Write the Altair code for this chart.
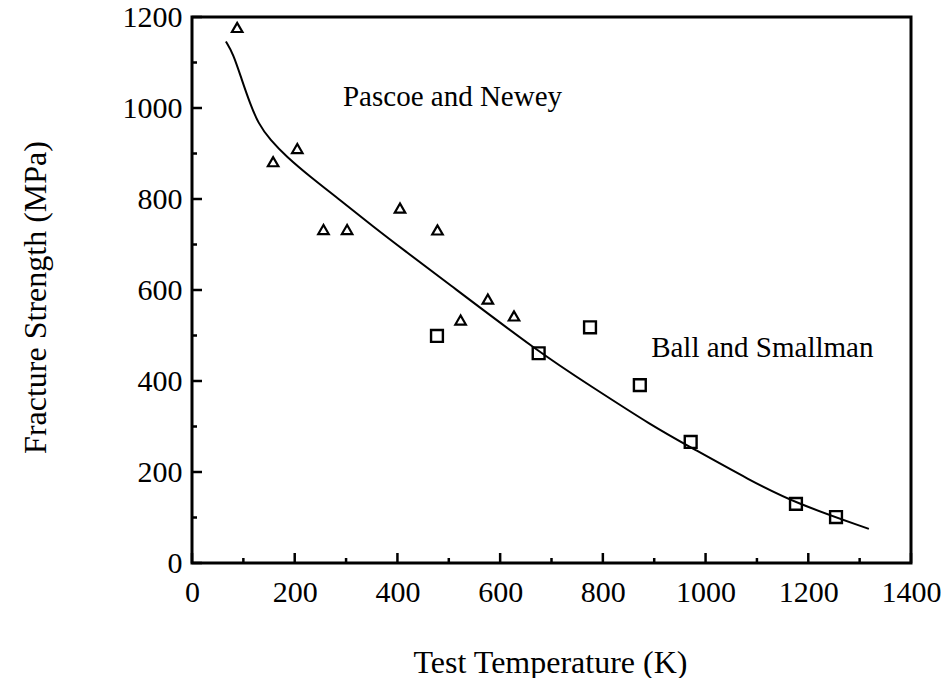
import altair as alt
import pandas as pd

# Pascoe and Newey (triangles)
pn_temp = [88, 158, 205, 256, 302, 405, 478, 523, 576, 627]
pn_strength = [1177, 882, 911, 733, 733, 780, 732, 534, 580, 543]

# Ball and Smallman (squares)
bs_temp = [477, 675, 775, 872, 971, 1176, 1254]
bs_strength = [499, 461, 518, 391, 266, 130, 101]

# Fitted curve
curve_temp = [66, 80, 97, 113, 129, 152, 184, 230, 288, 353, 418, 483, 678,
              775, 898, 970, 1086, 1176, 1318]
curve_strength = [1146, 1120, 1062, 1010, 966, 930, 893, 849, 798, 739, 683, 628,
                  461, 390, 300, 255, 182, 131, 75]

# Annotations
label_text = ["Pascoe and Newey", "Ball and Smallman"]
label_x = [294, 894]
label_y = [1024, 473]

x_ticks_major = [0, 200, 400, 600, 800, 1000, 1200, 1400]
x_ticks_minor = [100, 300, 500, 700, 900, 1100, 1300]
y_ticks_major = [0, 200, 400, 600, 800, 1000, 1200]
y_ticks_minor = [100, 300, 500, 700, 900, 1100]

W, H = 719, 546
FONT = "Liberation Serif"

xs = alt.Scale(domain=[0, 1400], nice=False, zero=False)
ys = alt.Scale(domain=[0, 1200], nice=False, zero=False)

pn = pd.DataFrame({"T": pn_temp, "S": pn_strength})
bs = pd.DataFrame({"T": bs_temp, "S": bs_strength})
cv = pd.DataFrame({"T": curve_temp, "S": curve_strength})
lab = pd.DataFrame({"text": label_text, "T": label_x, "S": label_y})

base_x = alt.X("T:Q", scale=xs, title="Test Temperature (K)",
               axis=alt.Axis(values=x_ticks_major, format="d", ticks=False, domain=False, grid=False,
                             labelFont=FONT, labelFontSize=30, labelColor="black",
                             labelPadding=14, labelFlush=False,
                             titleFont=FONT, titleFontSize=32,
                             titleFontWeight="normal", titleColor="black",
                             titleX=358, titleY=99, titleBaseline="middle", titleAlign="center"))
base_y = alt.Y("S:Q", scale=ys, title="Fracture Strength (MPa)",
               axis=alt.Axis(values=y_ticks_major, format="d", ticks=False, domain=False, grid=False,
                             labelFont=FONT, labelFontSize=30, labelColor="black",
                             labelPadding=10, labelFlush=False,
                             titleFont=FONT, titleFontSize=32,
                             titleFontWeight="normal", titleColor="black",
                             titleX=-157, titleY=280, titleBaseline="middle", titleAlign="center"))

curve = alt.Chart(cv).mark_line(color="black", strokeWidth=2, interpolate="basis").encode(
    x=base_x, y=base_y)

tri = alt.Chart(pn).mark_point(shape="triangle-up", filled=False, color="black",
                               strokeWidth=2.2, size=110, opacity=1).encode(
    x=alt.X("T:Q", scale=xs), y=alt.Y("S:Q", scale=ys))

sq = alt.Chart(bs).mark_point(shape="square", filled=False, color="black",
                              strokeWidth=2.4, size=140, opacity=1).encode(
    x=alt.X("T:Q", scale=xs), y=alt.Y("S:Q", scale=ys))

txt = alt.Chart(lab).mark_text(align="left", baseline="middle", font=FONT, fontSize=29,
                               color="black").encode(
    x=alt.X("T:Q", scale=xs), y=alt.Y("S:Q", scale=ys), text="text:N")

xmaj = alt.Chart(pd.DataFrame({"T": x_ticks_major})).mark_rule(color="black", strokeWidth=2.5).encode(
    x=alt.X("T:Q", scale=xs), y=alt.value(H), y2=alt.value(H - 10))
xmin = alt.Chart(pd.DataFrame({"T": x_ticks_minor})).mark_rule(color="black", strokeWidth=2.5).encode(
    x=alt.X("T:Q", scale=xs), y=alt.value(H), y2=alt.value(H - 5))
ymaj = alt.Chart(pd.DataFrame({"S": y_ticks_major})).mark_rule(color="black", strokeWidth=2.5).encode(
    y=alt.Y("S:Q", scale=ys), x=alt.value(0), x2=alt.value(10))
ymin = alt.Chart(pd.DataFrame({"S": y_ticks_minor})).mark_rule(color="black", strokeWidth=2.5).encode(
    y=alt.Y("S:Q", scale=ys), x=alt.value(0), x2=alt.value(5))

chart = alt.layer(curve, tri, sq, txt, xmaj, xmin, ymaj, ymin).properties(
    width=W, height=H,
    autosize=alt.AutoSizeParams(type="none"),
    padding={"left": 192, "top": 17, "right": 34, "bottom": 115},
    background="white",
).configure_view(stroke="black", strokeWidth=3)

chart.save("out.html", embed_options={"renderer": "svg", "actions": False})
